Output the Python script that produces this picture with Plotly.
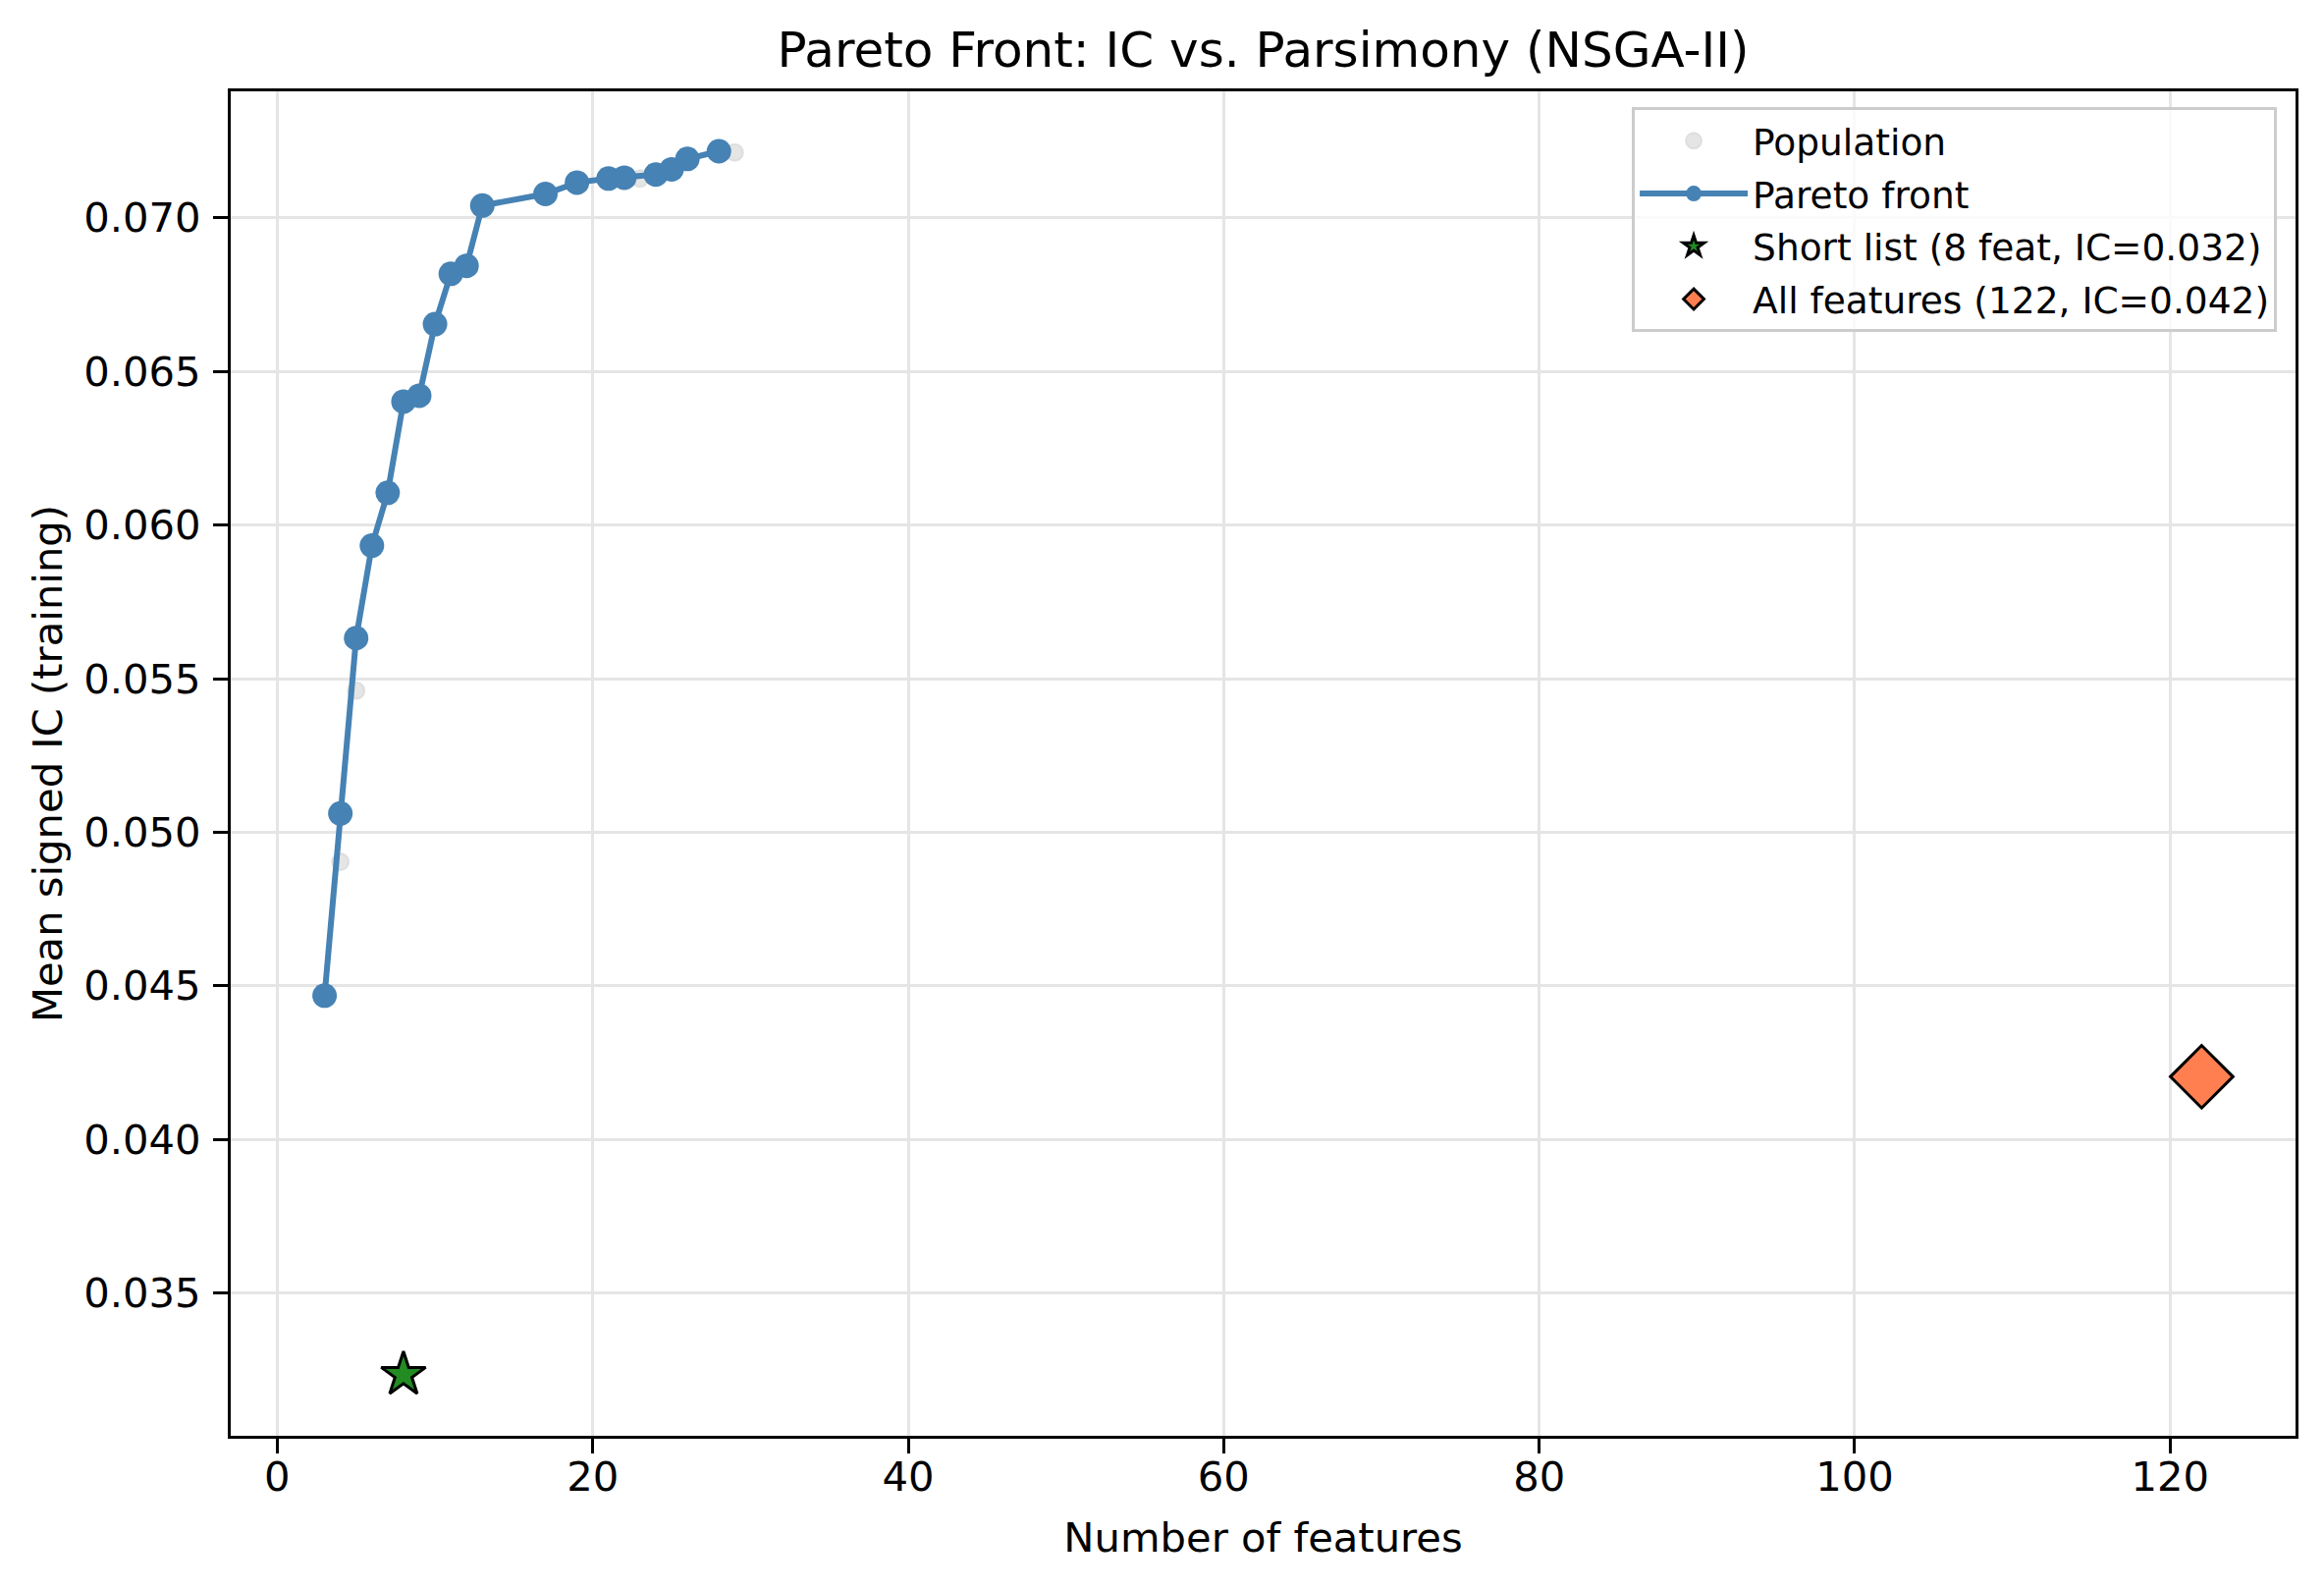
import plotly.graph_objects as go

# ---- data ----
pareto_n = [3, 4, 5, 6, 7, 8, 9, 10, 11, 12, 13, 17, 19, 21, 22, 24, 25, 26, 28]
pareto_ic = [0.04468, 0.05061, 0.05632, 0.05933, 0.06105, 0.06402, 0.06421, 0.06654,
             0.06818, 0.06844, 0.07040, 0.07078, 0.07115, 0.07128, 0.07131, 0.07141,
             0.07158, 0.07192, 0.07217]

population_n = [4, 5, 23, 29]
population_ic = [0.04904, 0.05461, 0.07128, 0.07213]

short_n = [8]
short_ic = [0.03234]

all_n = [122]
all_ic = [0.04204]

x_ticks = [0, 20, 40, 60, 80, 100, 120]
y_ticks = [0.035, 0.040, 0.045, 0.050, 0.055, 0.060, 0.065, 0.070]

FONT = "DejaVu Sans"

fig = go.Figure()

fig.add_trace(go.Scatter(
    x=population_n, y=population_ic, mode="markers", name="Population",
    legendgroup="a",
    marker=dict(size=17, color="rgba(211,211,211,0.6)",
                line=dict(width=2, color="rgba(211,211,211,0.6)")),
))
fig.add_trace(go.Scatter(
    x=pareto_n, y=pareto_ic, mode="lines+markers", name="Pareto front",
    legendgroup="b",
    line=dict(color="#4682b4", width=6),
    marker=dict(size=25, color="#4682b4"),
))
fig.add_trace(go.Scatter(
    x=short_n, y=short_ic, mode="markers", name="Short list (8 feat, IC=0.032)",
    legendgroup="c",
    marker=dict(symbol="star", size=34, color="#228b22",
                line=dict(width=3, color="black")),
))
fig.add_trace(go.Scatter(
    x=all_n, y=all_ic, mode="markers", name="All features (122, IC=0.042)",
    legendgroup="d",
    marker=dict(symbol="diamond", size=49, color="#ff7f50",
                line=dict(width=3, color="black")),
))

axis_common = dict(
    showline=True, mirror=True, linecolor="black", linewidth=3.3,
    ticks="outside", ticklen=15, tickwidth=3.3, tickcolor="black",
    showgrid=True, gridcolor="#e5e5e5", gridwidth=3.3,
    zeroline=False, automargin=False,
    tickfont=dict(family=FONT, size=41.7, color="black"),
)

fig.update_layout(
    width=2367, height=1618,
    margin=dict(l=235, r=29, t=93, b=156),
    paper_bgcolor="white", plot_bgcolor="white",
    font=dict(family=FONT, color="black"),
    title=dict(text="Pareto Front: IC vs. Parsimony (NSGA-II)",
               font=dict(family=FONT, size=50, color="black"),
               x=0.5, xref="paper", xanchor="center",
               y=1 - 50 / 1618, yref="container", yanchor="middle"),
    xaxis=dict(axis_common, range=[-2.95, 127.95], tickvals=x_ticks,
               ticklabelstandoff=-12,
               title=dict(text="Number of features",
                          font=dict(family=FONT, size=41.7), standoff=24)),
    yaxis=dict(axis_common, range=[0.03035, 0.07412], tickvals=y_ticks,
               tickformat=".3f", ticklabelstandoff=4,
               title=dict(text="Mean signed IC (training)",
                          font=dict(family=FONT, size=41.7), standoff=9)),
    legend=dict(x=0.991, y=0.988, xanchor="right", yanchor="top",
                bgcolor="rgba(255,255,255,0.8)", bordercolor="#cccccc",
                borderwidth=3, font=dict(family=FONT, size=37.5, color="black"),
                tracegroupgap=2, itemwidth=110),
    showlegend=True,
)

fig.write_html("out.html")
